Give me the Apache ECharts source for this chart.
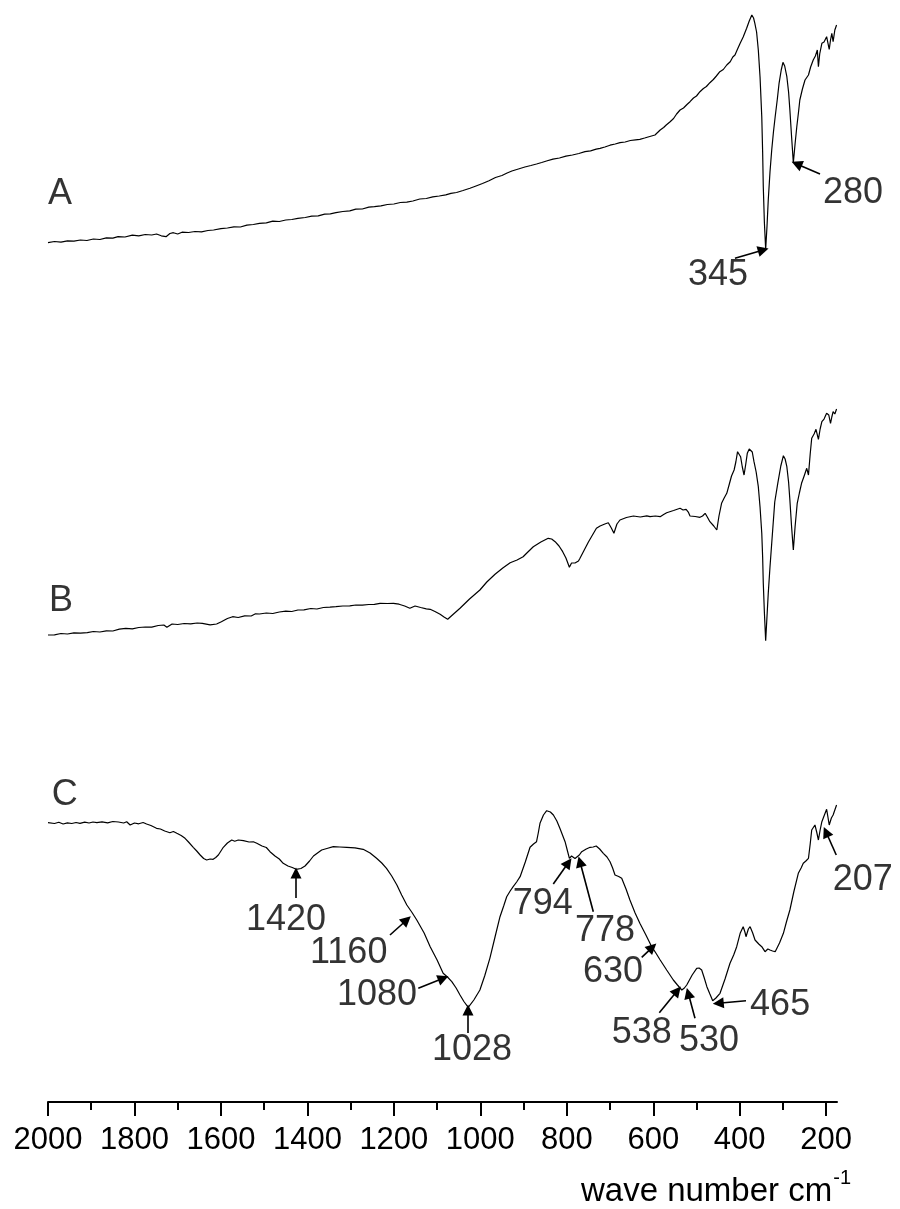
<!DOCTYPE html>
<html><head><meta charset="utf-8">
<script src="https://cdn.jsdelivr.net/npm/echarts@6.0.0/dist/echarts.min.js"></script>
<style>html,body{margin:0;padding:0;background:#fff}#chart{width:900px;height:1209px}</style>
</head><body><div id="chart"></div>
<script>
const FONT = '"Liberation Sans", Arial, Helvetica, sans-serif';
const majorTicks = [2000,1800,1600,1400,1200,1000,800,600,400,200];
const minorTicks = [1900,1700,1500,1300,1100,900,700,500,300];

const spectrumA = [[2000,85.93],[1985,86.05],[1970,85.98],[1955,86.12],[1940,86.08],[1925,86.2],[1910,86.15],[1895,86.3],[1880,86.25],[1865,86.42],[1850,86.38],[1838,86.53],[1822,86.5],[1805,86.68],[1790,86.62],[1775,86.75],[1760,86.7],[1749,86.8],[1738,86.62],[1727,86.53],[1718,86.85],[1710,86.93],[1700,86.8],[1690,86.98],[1675,86.95],[1660,87.05],[1645,87.02],[1630,87.15],[1617,87.2],[1600,87.33],[1585,87.4],[1570,87.52],[1555,87.5],[1540,87.68],[1525,87.75],[1511,87.87],[1495,87.92],[1480,88.08],[1465,88.05],[1450,88.2],[1436,88.25],[1422,88.37],[1405,88.45],[1390,88.58],[1375,88.62],[1360,88.78],[1347,88.82],[1334,88.93],[1318,89.05],[1302,89.12],[1288,89.28],[1273,89.3],[1258,89.48],[1245,89.53],[1230,89.62],[1215,89.75],[1200,89.8],[1185,89.95],[1170,89.98],[1156,90.1],[1140,90.3],[1125,90.35],[1110,90.52],[1095,90.6],[1080,90.72],[1068,90.87],[1055,90.95],[1040,91.15],[1024,91.37],[1010,91.6],[995,91.85],[980,92.13],[965,92.45],[950,92.65],[938,92.9],[927,93.1],[912,93.3],[897,93.5],[883,93.65],[870,93.8],[858,93.95],[847,94.1],[832,94.28],[817,94.4],[802,94.58],[787,94.7],[772,94.85],[758,95.03],[745,95.12],[732,95.28],[723,95.37],[712,95.5],[700,95.68],[688,95.8],[677,95.93],[665,96.0],[653,96.15],[641,96.22],[631,96.27],[620,96.4],[608,96.55],[596,96.7],[590,96.95],[584,97.2],[576,97.45],[570,97.7],[561,98.03],[553,98.35],[546,98.8],[538,99.2],[530,99.4],[522,99.75],[515,100.03],[507,100.4],[500,100.6],[492,101.03],[484,101.35],[477,101.55],[469,101.93],[461,102.25],[454,102.6],[446,103.03],[438,103.25],[430,103.7],[422,104.03],[416,104.5],[411,104.7],[405,105.3],[399,105.87],[392,106.5],[384,107.37],[378,108.1],[372,108.7],[368,108.4],[365,107.87],[361,107.0],[357,105.2],[353,102.5],[349,98.53],[347,95.0],[345.5,91.53],[343,88.0],[340,85.27],[337,87.5],[334,90.2],[330,93.0],[326,95.2],[322,97.0],[318,98.53],[313,100.3],[309,101.87],[304,103.2],[300,103.97],[296,103.6],[291,102.53],[287,101.0],[284,99.2],[280,96.5],[276,93.93],[272,95.8],[268,97.53],[264,99.0],[261,100.2],[255,101.3],[249,102.2],[245,102.4],[241,102.7],[236,103.5],[230,104.2],[225,104.6],[220.5,105.2],[218,103.53],[215,104.8],[210,105.87],[205,106.0],[199,106.53],[196,106.4],[193,105.27],[190,106.2],[187,106.87],[184,106.03],[180,107.2],[176,107.7]];

const spectrumB = [[2000,46.7],[1985,46.72],[1970,46.85],[1955,46.8],[1940,46.92],[1925,46.88],[1909,46.93],[1895,47.05],[1880,47.0],[1865,47.12],[1850,47.1],[1835,47.28],[1820,47.37],[1805,47.32],[1790,47.45],[1775,47.5],[1760,47.48],[1745,47.65],[1732,47.7],[1725,47.47],[1713,47.8],[1700,47.75],[1685,47.85],[1670,47.82],[1655,47.9],[1643,47.87],[1639,47.7],[1625,47.72],[1610,47.8],[1599,48.03],[1585,48.35],[1573,48.53],[1560,48.45],[1545,48.62],[1530,48.6],[1520,48.82],[1511,48.8],[1495,48.9],[1480,48.85],[1465,49.0],[1450,49.08],[1436,49.05],[1422,49.2],[1408,49.22],[1392,49.35],[1378,49.3],[1363,49.45],[1348,49.48],[1334,49.53],[1318,49.6],[1302,49.62],[1288,49.7],[1273,49.68],[1258,49.75],[1245,49.77],[1232,49.87],[1215,49.85],[1201,49.87],[1188,49.78],[1175,49.6],[1163,49.37],[1151,49.6],[1138,49.45],[1125,49.32],[1116,49.27],[1105,49.05],[1093,48.77],[1084,48.5],[1075.5,48.27],[1062,48.8],[1047,49.37],[1025,50.3],[1001,51.2],[985,52.0],[966,52.77],[948,53.4],[931,53.93],[915,54.2],[901,54.53],[890,55.0],[877.5,55.53],[860,56.0],[843,56.37],[835,56.3],[827,56.03],[818,55.6],[809.5,55.03],[802,54.4],[794,53.47],[789,53.9],[785,54.03],[781,53.9],[777,53.87],[773,54.1],[769.5,54.37],[750,56.0],[731.5,57.37],[723,57.6],[712,57.8],[704,57.93],[697,57.4],[691,56.87],[684,57.8],[677,58.2],[662,58.45],[646,58.6],[630,58.5],[615,58.62],[607.5,58.53],[595,58.6],[584,58.53],[576,58.75],[569,58.93],[553,59.15],[538,59.37],[531,59.2],[524,59.27],[519,59.0],[515,58.6],[503,58.55],[492,58.47],[486,58.6],[480,58.87],[475,58.5],[469,58.03],[460,57.6],[453,57.2],[448,58.6],[442,59.87],[436,60.4],[430,60.87],[424,61.8],[419,62.6],[413,63.2],[409,64.0],[405,65.03],[401,64.9],[398,64.53],[394,63.5],[390,62.7],[386,63.8],[382.5,64.87],[378,65.3],[375,65.47],[371,65.0],[367,64.03],[362,63.0],[357,61.53],[353,59.5],[349,56.87],[347,54.5],[345.5,51.87],[343,49.0],[340,46.13],[337,48.5],[334,50.87],[330,53.5],[326,55.87],[319,60.0],[312,61.87],[305,63.6],[299,64.63],[295,64.3],[291,63.53],[287,62.0],[284,60.2],[280,57.5],[276,55.2],[272,57.5],[267,59.87],[262,60.9],[257,61.87],[251,62.6],[245,63.37],[241,62.7],[237,64.8],[233.5,66.37],[228,66.8],[223.6,67.27],[218,66.27],[214,67.3],[210,68.03],[205,68.3],[199,68.87],[194,68.7],[190,67.87],[187,68.5],[184,69.03],[180,68.8],[176,69.3]];

const spectrumC = [[2000,27.93],[1985,27.85],[1975,27.98],[1965,27.8],[1955,27.92],[1945,27.85],[1935,27.95],[1926,27.87],[1915,27.98],[1905,27.9],[1896,28.0],[1887,27.93],[1875,28.02],[1862,27.92],[1850,28.05],[1837,28.0],[1825,27.9],[1818,28.02],[1810,27.7],[1800,27.9],[1790,27.82],[1780,27.95],[1772,27.8],[1762,27.65],[1749,27.37],[1740,27.3],[1730,27.1],[1718,26.93],[1710,27.05],[1702,26.87],[1692,26.65],[1683,26.37],[1675,26.0],[1664,25.47],[1656,25.1],[1648,24.7],[1640,24.35],[1633,24.2],[1625,24.3],[1618,24.27],[1612,24.45],[1606,24.7],[1600,25.1],[1594.5,25.47],[1585,25.9],[1575,26.2],[1568,26.08],[1560,26.2],[1548,26.13],[1535,26.0],[1525,26.02],[1517,25.87],[1505,25.6],[1495,25.45],[1486.5,25.03],[1475,24.6],[1465,24.3],[1456,23.87],[1445,23.6],[1435,23.45],[1426,23.27],[1415,23.35],[1405.5,23.6],[1395,24.1],[1386,24.6],[1375,24.95],[1367,25.2],[1355,25.35],[1340,25.53],[1325,25.5],[1309,25.47],[1290,25.42],[1271,25.27],[1255,24.9],[1240,24.37],[1228,23.9],[1217,23.37],[1205,22.6],[1193,21.7],[1182,20.7],[1170,19.7],[1158,18.95],[1147,18.2],[1130,16.9],[1116,15.53],[1100,14.2],[1086,12.87],[1076,12.5],[1066,12.03],[1056,11.4],[1047,10.7],[1038,10.05],[1028,9.47],[1015,10.2],[1001,11.2],[990,12.6],[978,14.37],[966,16.5],[954.5,18.53],[946,19.6],[939,20.53],[931,21.1],[924,21.53],[916,22.0],[908,22.53],[896,24.0],[885,25.47],[877,25.8],[870,26.03],[866,26.9],[862,27.87],[854,28.7],[846.5,29.13],[838,29.0],[831,28.7],[823,28.1],[816,27.37],[810,26.7],[804,26.03],[799,25.2],[794,24.37],[789,24.6],[785,24.53],[781,24.35],[777,24.27],[771,24.7],[765.5,25.03],[755,25.3],[746,25.47],[739,25.5],[732,25.6],[724,25.3],[715.5,24.87],[707,24.5],[700,24.03],[694,23.4],[688.5,22.7],[680,22.55],[673,22.37],[663,21.3],[654,20.2],[642,18.9],[631,17.87],[617,16.7],[603.6,15.53],[594,14.9],[584,14.2],[569,13.2],[553.6,12.2],[544,11.7],[534,11.2],[528,11.4],[522.6,11.7],[510,12.7],[499.5,13.37],[494,13.4],[488,13.2],[482,12.4],[476,11.53],[469,10.8],[462.5,10.13],[455,10.4],[445.6,10.87],[434,12.3],[422.5,13.87],[414,14.7],[407,15.53],[399,16.87],[392,17.53],[388,17.0],[385.5,16.53],[380,17.3],[376,17.53],[370,16.9],[364.6,16.2],[356,15.8],[349,15.53],[341.5,15.03],[335,15.3],[330,15.2],[324,15.1],[318,15.03],[308,15.9],[299,16.87],[292,18.0],[284,19.2],[275,21.0],[264.5,22.87],[258,23.4],[253,23.87],[247,24.1],[241,24.37],[237,25.8],[233.5,27.2],[229,27.4],[226,27.7],[222,27.0],[218,26.2],[214,27.2],[210,28.03],[205,28.6],[199,29.27],[196,28.5],[193,27.7],[188,28.4],[184,28.7],[180,29.2],[176,29.7]];

const traceNames = ['A','B','C'];
const traceNameAnchors = [[2000,90.75],[1997.7,50.1],[1991.4,30.7]];
const peakTexts = ['345','280','1420','1160','1080','1028','794','778','630','538','530','465','207'];
const peakTextAnchors = [[519.6,82.7],[207.4,90.85],[1542,18.15],[1394,14.85],[1331.5,10.65],[1111.8,5.2],[925,19.8],[781,17.05],[762.5,12.95],[696,6.9],[540.5,6.05],[376,9.65],[185,22.15]];
const arrowTails = [[411,84.37],[214.3,92.8],[1426.4,20.4],[1209,16.7],[1143.5,11.37],[1028.5,6.9],[831.2,21.8],[738.7,19.03],[626.7,14.47],[586,8.93],[503.5,8.37],[385.5,10.13],[176.7,24.7]];
const arrowTips = [[345.5,85.2],[268.2,93.8],[1426.4,22.9],[1170.3,18.2],[1085.7,12.37],[1028.5,9.2],[796.5,23.93],[769.5,24.03],[602.2,15.47],[544.4,11.13],[519,10.87],[449.6,9.87],[200.4,27]];

const chart = echarts.init(document.getElementById('chart'), null, {renderer: 'canvas'});

const lineSeries = [spectrumA, spectrumB, spectrumC].map((d, i) => ({
  type: 'line', name: traceNames[i], data: d, showSymbol: false, symbol: 'none',
  lineStyle: {color: '#000', width: 1.2}, silent: true, z: 2
}));

const textData = traceNames.map((t, i) => ({name: t, value: traceNameAnchors[i]}))
  .concat(peakTexts.map((t, i) => ({name: t, value: peakTextAnchors[i]})));

const option = {
  animation: false,
  backgroundColor: '#fff',
  title: {
    text: '{a|wave number cm}{b|-1}',
    right: 44, top: 1163,
    textStyle: {
      fontWeight: 'normal',
      rich: {
        a: {fontFamily: FONT, fontWeight: 'normal', fontSize: 33, color: '#000', lineHeight: 40, verticalAlign: 'bottom'},
        b: {fontFamily: FONT, fontWeight: 'normal', fontSize: 20, color: '#000', lineHeight: 20, verticalAlign: 'top', padding: [0,0,0,1]}
      }
    }
  },
  grid: {left: 48, right: 63, top: 2, bottom: 107, containLabel: false},
  xAxis: [{
    type: 'value', inverse: true, min: 175, max: 2000,
    axisLine: {show: true, onZero: false, lineStyle: {color: '#000', width: 2}},
    axisTick: {show: true, length: 14, lineStyle: {color: '#000', width: 2}, customValues: majorTicks},
    axisLabel: {show: true, customValues: majorTicks, formatter: v => String(v), color: '#000', fontSize: 31, fontFamily: FONT, margin: 23},
    splitLine: {show: false}
  }, {
    type: 'value', inverse: true, min: 175, max: 2000, position: 'bottom',
    axisLine: {show: false},
    axisTick: {show: true, length: 8, lineStyle: {color: '#000', width: 2}, customValues: minorTicks},
    axisLabel: {show: false},
    splitLine: {show: false}
  }],
  yAxis: {type: 'value', min: 0, max: 110, show: false, splitLine: {show: false}},
  series: lineSeries.concat([
    {
      type: 'scatter', data: textData, symbolSize: 0, silent: true, clip: false, z: 5,
      label: {show: true, position: 'right', distance: 0, formatter: '{b}', color: '#000', fontSize: 36, fontFamily: FONT}
    },
    {
      type: 'lines', coordinateSystem: 'cartesian2d', silent: true, z: 4,
      symbol: ['none', 'path://M5 0 L10 10 L0 10 Z'], symbolSize: [7, 11],
      lineStyle: {color: '#000', width: 1.6, opacity: 1},
      data: arrowTails.map((t, i) => ({coords: [t, arrowTips[i]]}))
    }
  ])
};
chart.setOption(option);
</script>
</body></html>
